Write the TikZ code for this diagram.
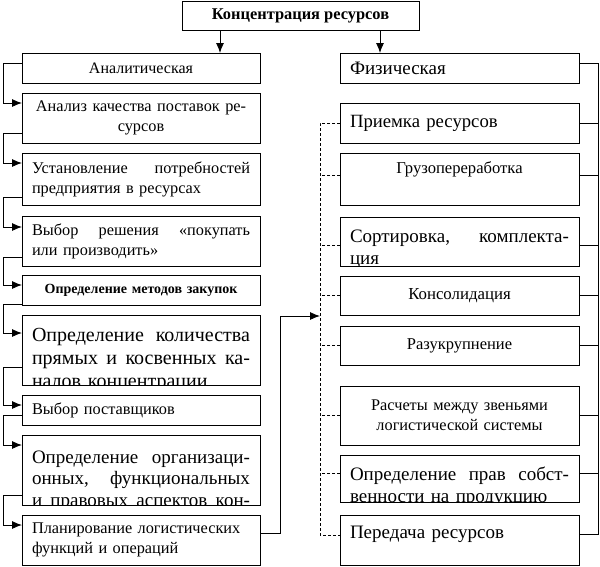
\documentclass[tikz,border=0pt]{standalone}
\usepackage{fontspec}
\setmainfont{Liberation Serif}
\usetikzlibrary{positioning,arrows.meta}

\begin{document}
\begin{tikzpicture}[x=1pt,y=-1pt,node distance=10pt,line width=0.9pt,>={Latex[length=10pt,width=8pt]}]
\tikzstyle{box}=[rectangle, draw, inner xsep=10pt, inner ysep=0pt, outer sep=0pt]
\tikzstyle{lbox}=[box, text width=218pt]
\tikzstyle{rbox}=[box, text width=219pt]
\tikzstyle{inset}=[draw=none, anchor=base west, inner sep=0pt, align=left]
\tikzstyle{f16}=[font=\fontsize{16.3}{20}\selectfont]
\tikzstyle{f19}=[font=\fontsize{19}{22.5}\selectfont]
\tikzstyle{f20}=[font=\fontsize{20}{23}\selectfont]
\tikzstyle{bold}=[font=\fontsize{14}{16}\selectfont\bfseries]
\tikzstyle{link}=[dash pattern=on 3pt off 2pt]
\useasboundingbox (0,0) rectangle (600,566);

\node[box, minimum width=237pt, minimum height=29pt, font=\fontsize{16.4}{19}\selectfont\bfseries] (title) at (300.5,15.5) {Концентрация ресурсов};

% analytic side
\node[lbox, font=\fontsize{16}{19}\selectfont, align=center, minimum height=30pt] (an) at (141,68) {Аналитическая};
\node[lbox, f16, align=center, minimum height=50pt, below=of an] (a1) {Анализ качества поставок ре-\\сурсов};
\node[lbox, f16, align=left, minimum height=52pt, below=of a1] (a2) {Установление\hfill потребностей\\предприятия в ресурсах};
\node[lbox, f16, align=left, minimum height=50pt, below=11pt of a2] (a3) {Выбор\hfill решения\hfill «покупать\\или производить»};
\node[lbox, bold, align=center, minimum height=30pt, below=9pt of a3] (a4) {Определение методов закупок};
\node[lbox, minimum height=70pt, below=of a4, path picture={
  \node[inset, f20, text width=218pt] at ([shift={(10pt,-26pt)}]path picture bounding box.north west)
    {Определение\hfill количества\\прямых\hfill и\hfill косвенных\hfill ка-\\налов концентрации};}] (a5) {};
\node[lbox, f16, align=left, minimum height=30pt, below=of a5] (a6) {Выбор поставщиков};
\node[lbox, minimum height=70pt, below=of a6, path picture={
  \node[inset, font=\fontsize{19}{21.5}\selectfont, text width=218pt] at ([shift={(10pt,-28pt)}]path picture bounding box.north west)
    {Определение\hfill организаци-\\онных,\hfill функциональных\\и\hfill правовых\hfill аспектов\hfill кон-};}] (a7) {};
\node[lbox, f16, align=left, minimum height=50pt, below=of a7] (a8) {Планирование логистических\\функций и операций};

% physical side
\node[rbox, f19, align=left, minimum height=30pt] (ph) at (459.5,68) {Физическая};
\node[rbox, font=\fontsize{18.7}{22}\selectfont, align=left, minimum height=40pt, below=20pt of ph] (r1) {Приемка ресурсов};
\node[rbox, font=\fontsize{16.6}{20}\selectfont, align=center, minimum height=52pt, text depth=22pt, below=of r1] (r2) {Грузопереработка};
\node[rbox, minimum height=49pt, below=12pt of r2, path picture={
  \node[inset, f19, text width=219pt] at ([shift={(10pt,-25pt)}]path picture bounding box.north west)
    {Сортировка,\hfill комплекта-\\ция};}] (r3) {};
\node[rbox, font=\fontsize{16.8}{20}\selectfont, align=center, minimum height=39pt, below=of r3] (r4) {Консолидация};
\node[rbox, font=\fontsize{16.5}{20}\selectfont, align=center, minimum height=39pt, below=11pt of r4] (r5) {Разукрупнение};
\node[rbox, f16, align=center, minimum height=59pt, below=21pt of r5] (r6) {Расчеты между звеньями\\логистической системы};
\node[rbox, minimum height=47pt, below=of r6, path picture={
  \node[inset, f19, text width=219pt] at ([shift={(10pt,-25pt)}]path picture bounding box.north west)
    {Определение\hfill прав\hfill собст-\\венности на продукцию};}] (r7) {};
\node[rbox, f19, align=left, minimum height=50pt, text depth=16pt, below=13pt of r7] (r8) {Передача ресурсов};

% from the title
\coordinate (ta) at ([xshift=38pt]title.south west);
\coordinate (tb) at ([xshift=-39pt]title.south east);
\draw[->] (ta) -- (ta |- an.north);
\draw[->] (tb) -- (tb |- ph.north);

% left chain
\foreach \a/\b/\s/\t in {an/a1/20/10, a1/a2/10/10, a2/a3/8/11, a3/a4/9/10, a4/a5/1/18, a5/a6/18/10, a6/a7/10/10, a7/a8/10/10}
  \draw[->] ([yshift=\s pt]\a.south west) -- ++(-19pt,0) |- ([yshift=-\t pt]\b.north west);

% right bracket
\draw ([yshift=5pt]ph.east) -- ++(19pt,0) |- ([yshift=6pt]r8.east);
\foreach \n/\d in {r1/0, r2/4, r3/-4, r4/0, r5/0, r6/0, r7/5}
  \draw ([yshift=\d pt]\n.east) -- ++(19pt,0);

% dashed bracket
\draw[link] (r1.west) -- ++(-20pt,0) |- ([yshift=5pt]r8.west);
\foreach \n/\d in {r2/4, r3/-4, r4/0, r5/0, r6/0, r7/5}
  \draw[link] ([yshift=\d pt]\n.west) -- ++(-20pt,0);

% planning into the physical side
\coordinate (hit) at (320,316);
\draw[->] ([yshift=7pt]a8.east) -- ++(20pt,0) |- (hit);
\end{tikzpicture}
\end{document}
